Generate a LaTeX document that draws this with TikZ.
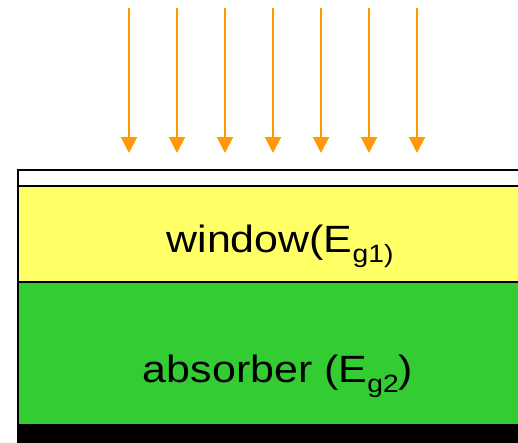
\documentclass[tikz,border=0pt]{standalone}
\usepackage{fontspec}
\setmainfont{Liberation Sans}
\usetikzlibrary{arrows.meta}
\definecolor{winyellow}{HTML}{FFFF66}
\definecolor{absgreen}{HTML}{33CC33}
\definecolor{lightorange}{HTML}{FF9900}
\newcommand{\lowsub}[1]{\raisebox{-10pt}{\fontsize{25}{25}\selectfont #1}}
\newcommand{\widetext}[1]{\scalebox{1.13}[1]{\fontsize{38}{38}\selectfont #1}}
\begin{document}
\begin{tikzpicture}[x=1pt,y=-1pt,
  layer/.style={draw=black,line width=1.5pt,rectangle,inner sep=0pt,anchor=north west,minimum width=530pt},
  lbl/.style={inner sep=0pt,anchor=base},
  ray/.style={draw=lightorange,line width=2pt,-{Triangle[width=16pt,length=16pt]}}]
\useasboundingbox (0,0) rectangle (518,442);
\clip (0,0) rectangle (518,442);
\node[layer,fill=white,minimum height=16pt] (top) at (17,169) {};
\node[layer,fill=winyellow,minimum height=96pt] (win) at (17,185) {};
\node[layer,fill=absgreen,minimum height=143pt] (abs) at (17,281) {};
\node[layer,fill=black,minimum height=30pt] (base) at (17,424) {};
\node[lbl] (wtext) at (280,252) {\widetext{window(E\lowsub{g1)}}};
\node[lbl] (atext) at (278,382) {\widetext{absorber (E\lowsub{g2})}};
\foreach \i in {0,...,6} {
  \coordinate (s\i) at (129+48*\i,8);
  \coordinate (e\i) at (129+48*\i,153);
  \draw[ray] (s\i) -- (e\i);
}
\end{tikzpicture}
\end{document}
